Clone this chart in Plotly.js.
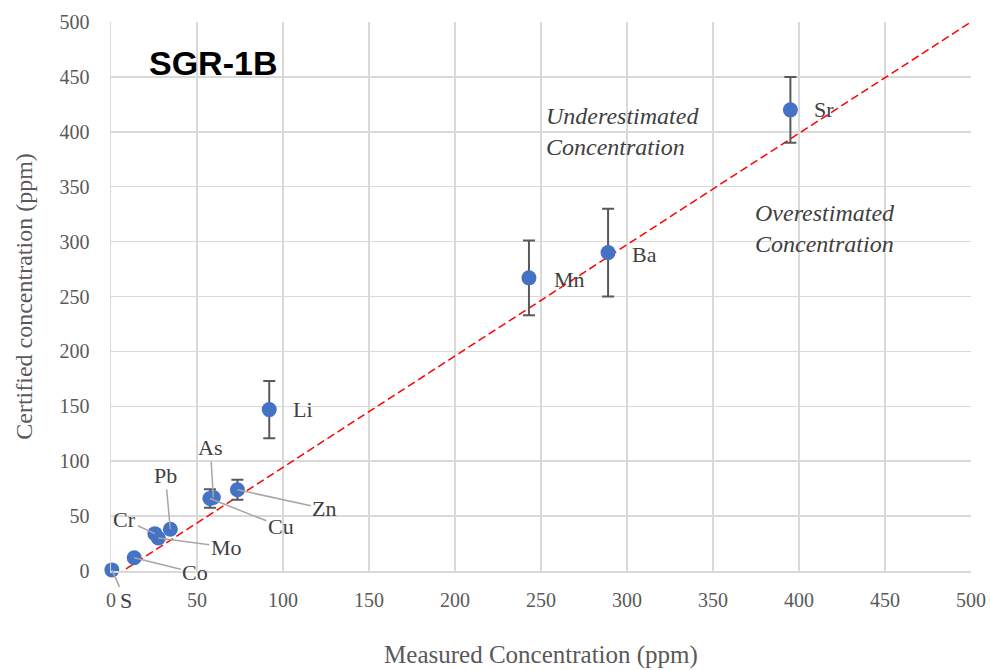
<!DOCTYPE html>
<html>
<head>
<meta charset="utf-8">
<script src="https://cdn.plot.ly/plotly-3.0.1.min.js"></script>
<style>html,body{margin:0;padding:0;background:#fff;}#chart{width:991px;height:670px;}</style>
</head>
<body>
<div id="chart"></div>
<script>
// Data (ppm)
const elements  = ['S', 'Co', 'Cr', 'Mo', 'Pb', 'Cu', 'As', 'Zn', 'Li', 'Mn', 'Ba', 'Sr'];
const measured  = [0.5, 13.5, 25.5, 27.5, 34.5, 57.5, 59.5, 73.5, 92, 243, 289, 395];
const certified = [1, 12, 34, 30, 38, 66, 67, 74, 147, 267, 290, 420];
const certErr   = [0, 0, 0, 0, 0, 8.5, 0, 9, 26, 34, 40, 30];
// 1:1 reference line
const refX = [-3, 500];
const refY = [-10, 500];
const axisTicks = [0, 50, 100, 150, 200, 250, 300, 350, 400, 450, 500];

// label placement (pixel offsets) – style only
const labelStyle = {
  S:  {arrow: true, ax: 14, ay: 31},
  Co: {arrow: true, ax: 61, ay: 15},
  Cr: {arrow: true, ax: -30, ay: -14},
  Mo: {arrow: true, ax: 68, ay: 9},
  Pb: {arrow: true, ax: -5, ay: -54},
  Cu: {arrow: true, ax: 71, ay: 28},
  As: {arrow: true, ax: -3, ay: -50},
  Zn: {arrow: true, ax: 87, ay: 19},
  Li: {arrow: false, xshift: 22, yshift: 0},
  Mn: {arrow: false, xshift: 23, yshift: -2},
  Ba: {arrow: false, xshift: 22, yshift: -2},
  Sr: {arrow: false, xshift: 22, yshift: 0}
};

const serif = 'Liberation Serif, Times New Roman, serif';
const grey = '#595959';

const traces = [
  {
    x: refX, y: refY, mode: 'lines', type: 'scatter',
    line: {color: '#ff0000', width: 1.5, dash: '8px,4px'},
    hoverinfo: 'skip', showlegend: false
  },
  {
    x: measured, y: certified, mode: 'markers', type: 'scatter',
    marker: {color: '#4472C4', size: 15},
    error_y: {type: 'data', array: certErr, visible: true, color: '#595959', thickness: 2, width: 6},
    text: elements, showlegend: false, cliponaxis: false
  }
];

const annotations = elements.map((name, i) => {
  const s = labelStyle[name];
  const base = {
    x: measured[i], y: certified[i], xref: 'x', yref: 'y', text: name,
    font: {family: serif, size: 22, color: '#404040'}
  };
  if (s.arrow) {
    return Object.assign(base, {
      showarrow: true, ax: s.ax, ay: s.ay, arrowhead: 0, arrowwidth: 1.5,
      arrowcolor: '#a6a6a6', standoff: 0, startstandoff: 0
    });
  }
  return Object.assign(base, {showarrow: false, xanchor: 'left', yanchor: 'middle', xshift: s.xshift, yshift: s.yshift});
});

annotations.push({
  xref: 'paper', yref: 'paper', x: 0.042, y: 0.925, xanchor: 'left', yanchor: 'middle',
  text: '<b>SGR-1B</b>', showarrow: false,
  font: {family: 'Liberation Sans, Arial, sans-serif', size: 34, color: '#000'}
});
annotations.push({
  xref: 'paper', yref: 'paper', x: 0.503, y: 0.80, xanchor: 'left', yanchor: 'middle', align: 'left',
  text: '<i>Underestimated<br>Concentration</i>', showarrow: false,
  font: {family: serif, size: 24, color: '#404040'}
});
annotations.push({
  xref: 'paper', yref: 'paper', x: 0.747, y: 0.624, xanchor: 'left', yanchor: 'middle', align: 'left',
  text: '<i>Overestimated<br>Concentration</i>', showarrow: false,
  font: {family: serif, size: 24, color: '#404040'}
});

const layout = {
  width: 991, height: 670,
  margin: {l: 111, r: 20, t: 22, b: 99},
  paper_bgcolor: '#fff', plot_bgcolor: '#fff',
  showlegend: false,
  xaxis: {
    range: [0, 500], tickvals: axisTicks, ticktext: axisTicks.map(String),
    showgrid: true, gridcolor: '#d9d9d9', gridwidth: 1.5,
    zeroline: false, showline: true, linecolor: '#d9d9d9', linewidth: 1.5,
    ticks: '', ticklabelstandoff: 10,
    tickfont: {family: serif, size: 20, color: grey},
    title: {text: 'Measured Concentration (ppm)', font: {family: serif, size: 25, color: grey}, standoff: 36}
  },
  yaxis: {
    range: [0, 500], tickvals: axisTicks, ticktext: axisTicks.map(String),
    showgrid: true, gridcolor: '#d9d9d9', gridwidth: 1.5,
    zeroline: false, showline: true, linecolor: '#d9d9d9', linewidth: 1.5,
    ticks: '', ticklabelstandoff: 16,
    tickfont: {family: serif, size: 20, color: grey},
    title: {text: 'Certified concentration (ppm)', font: {family: serif, size: 24, color: grey}, standoff: 20}
  },
  annotations: annotations
};

Plotly.newPlot('chart', traces, layout, {displayModeBar: false, staticPlot: true});
</script>
</body>
</html>
